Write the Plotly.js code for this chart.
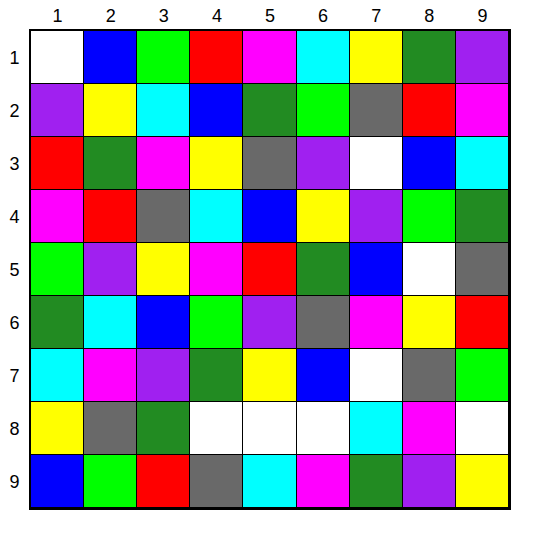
<!DOCTYPE html>
<html><head><meta charset="utf-8">
<script src="https://cdn.plot.ly/plotly-3.0.1.min.js"></script>
<style>html,body{margin:0;padding:0;background:#fff}#chart{width:537px;height:537px}</style>
</head><body><div id="chart"></div>
<script>
var columnLabels = ['1','2','3','4','5','6','7','8','9'];
var rowLabels = ['1','2','3','4','5','6','7','8','9'];
var colorNames = ['white','blue','lime','red','magenta','cyan','yellow','green','purple','gray'];
var colorHex = ['#ffffff','#0000ff','#00ff00','#ff0000','#ff00ff','#00ffff','#ffff00','#228b22','#a020f0','#696969'];
var gridColors = [
  ['white','blue','lime','red','magenta','cyan','yellow','green','purple'],
  ['purple','yellow','cyan','blue','green','lime','gray','red','magenta'],
  ['red','green','magenta','yellow','gray','purple','white','blue','cyan'],
  ['magenta','red','gray','cyan','blue','yellow','purple','lime','green'],
  ['lime','purple','yellow','magenta','red','green','blue','white','gray'],
  ['green','cyan','blue','lime','purple','gray','magenta','yellow','red'],
  ['cyan','magenta','purple','green','yellow','blue','white','gray','lime'],
  ['yellow','gray','green','white','white','white','cyan','magenta','white'],
  ['blue','lime','red','gray','cyan','magenta','green','purple','yellow']
];
var z = gridColors.map(function(r){return r.map(function(c){return colorNames.indexOf(c);});});
var n = colorHex.length;
var cs = [];
colorHex.forEach(function(h,i){cs.push([i/n,h]);cs.push([(i+1)/n,h]);});
var trace = {
  type:'heatmap', x:columnLabels, y:rowLabels, z:z,
  zmin:-0.5, zmax:n-0.5, colorscale:cs, showscale:false,
  xgap:1, ygap:1, hoverinfo:'none'
};
var layout = {
  width:537, height:537,
  margin:{l:31,r:28,t:31,b:29},
  paper_bgcolor:'#ffffff', plot_bgcolor:'#000000',
  font:{family:'Liberation Sans, Arial, sans-serif', size:18, color:'#000'},
  xaxis:{type:'category', side:'top', showgrid:false, zeroline:false, ticks:'',
         showline:true, mirror:true, linewidth:2, linecolor:'#000', tickfont:{size:18}},
  yaxis:{type:'category', autorange:'reversed', showgrid:false, zeroline:false, ticks:'',
         showline:true, mirror:true, linewidth:2, linecolor:'#000', tickfont:{size:18},
         ticklabelstandoff:6},
  showlegend:false
};
Plotly.newPlot('chart',[trace],layout,{displayModeBar:false,staticPlot:true});
</script></body></html>
